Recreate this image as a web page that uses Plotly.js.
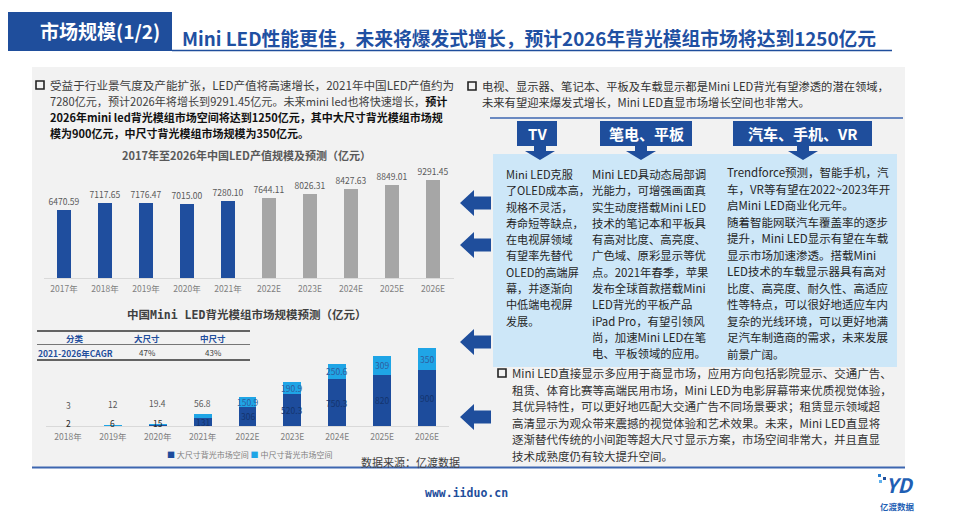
<!DOCTYPE html>
<html><head><meta charset="utf-8">
<script src="https://cdn.plot.ly/plotly-3.0.1.min.js"></script>
<style>html,body{margin:0;padding:0;background:#fff;}#chart{width:970px;height:518px;}</style>
</head><body><div id="chart"></div>
<script>
// ---------------- DATA ----------------
const ledYears = ['2017年','2018年','2019年','2020年','2021年','2022E','2023E','2024E','2025E','2026E'];
const ledValues = [6470.59, 7117.65, 7176.47, 7015.00, 7280.10, 7644.11, 8026.31, 8427.63, 8849.01, 9291.45];

const miniYears = ['2018年','2019年','2020年','2021年','2022E','2023E','2024E','2025E','2026E'];
const largeSize = [2, 6, 15, 131, 306, 520.3, 750.3, 820, 900];
const mediumSize = [3, 12, 19.4, 56.8, 150.9, 190.9, 250.6, 309, 350];
const seriesNames = ['大尺寸背光市场空间', '中尺寸背光市场空间'];

const cagrHeader = ['分类', '大尺寸', '中尺寸'];
const cagrRow = ['2021-2026年CAGR', '47%', '43%'];

// ---------------- HELPERS ----------------
const W = 970, H = 518;
const px = x => x / W;
const py = y => 1 - y / H;
const FONT = "'Noto Sans CJK SC', 'Noto Sans', sans-serif";
const MONO = "'DejaVu Sans Mono', 'Noto Sans CJK SC', monospace";
const BLUE = '#1f4e9c';
const DARKBAR = '#1d4c9c', LIGHTBAR = '#1fa5e6';

const shapes = [];
const annotations = [];
function rect(x0, y0, x1, y1, fill, layer, line) {
  shapes.push({type:'rect', xref:'paper', yref:'paper', x0:px(x0), x1:px(x1), y0:py(y1), y1:py(y0),
    fillcolor:fill, line: line || {width:0}, layer: layer || 'below'});
}
function hline(x0, x1, y, color, width, layer) {
  shapes.push({type:'line', xref:'paper', yref:'paper', x0:px(x0), x1:px(x1), y0:py(y), y1:py(y),
    line:{color:color, width:width}, layer: layer || 'below'});
}
function poly(pts, fill, layer) {
  const d = pts.map((p, i) => (i ? 'L' : 'M') + px(p[0]).toFixed(5) + ',' + py(p[1]).toFixed(5)).join(' ') + ' Z';
  shapes.push({type:'path', xref:'paper', yref:'paper', path:d, fillcolor:fill, line:{width:0}, layer: layer || 'above'});
}
function txt(x, y, text, size, color, opt) {
  opt = opt || {};
  annotations.push({xref:'paper', yref:'paper', x:px(x), y:py(y), text:text, showarrow:false,
    xanchor: opt.xanchor || 'left', yanchor:'middle',
    font:{family: opt.family || FONT, size:size, color:color, weight: opt.weight || 'normal'}});
}
function lines(x, y0, step, arr, size, color, opt) {
  arr.forEach((t, i) => txt(x, y0 + i * step, t, size, color, opt));
}
function checkbox(x, y) {
  rect(x, y - 4, x + 8, y + 4, 'rgba(0,0,0,0)', 'above', {color:'#222', width:1.6});
}
function leftArrow(tipX, cy) {
  poly([[tipX, cy], [tipX + 14, cy - 13], [tipX + 14, cy - 6.5], [tipX + 31, cy - 6.5],
        [tipX + 31, cy + 6.5], [tipX + 14, cy + 6.5], [tipX + 14, cy + 13]], BLUE, 'above');
}
function callout(x0, x1, ax, label) {
  poly([[x0, 121], [x1, 121], [x1, 146], [ax + 6, 146], [ax + 6, 151], [ax + 15, 151], [ax, 160],
        [ax - 15, 151], [ax - 6, 151], [ax - 6, 146], [x0, 146]], BLUE, 'above');
  txt((x0 + x1) / 2, 133.5, label, 15, '#ffffff', {xanchor:'center', weight:'bold'});
}

// ---------------- BACKGROUND / DECOR ----------------
rect(32, 67, 905, 468, '#f2f2f2');                // grey panel
rect(493, 154, 897, 367, '#cde7f8');              // light-blue box
hline(490, 903, 118, '#3d66b0', 1.6);
hline(32, 905, 467.5, '#3d66b0', 2);

// header
rect(8, 12, 172, 51, BLUE, 'above');
txt(100, 31, '市场规模(1/2)', 19, '#ffffff', {xanchor:'center', weight:'bold'});
txt(180, 38, 'Mini LED性能更佳，未来将爆发式增长，预计2026年背光模组市场将达到1250亿元', 18.8, '#1f50a2', {weight:'bold'});
hline(172, 892, 50.5, '#1f4e9c', 1.5, 'above');

// left paragraph
checkbox(36, 85);
txt(48, 85, '受益于行业景气度及产能扩张，LED产值将高速增长，2021年中国LED产值约为', 11.6, '#404040');
txt(48, 101, '7280亿元，预计2026年将增长到9291.45亿元。未来mini led也将快速增长，<b style="color:#111">预计</b>', 11.1, '#404040');
txt(48, 117, '<b>2026年mini led背光模组市场空间将达到1250亿元，其中大尺寸背光模组市场规</b>', 11, '#111');
txt(48, 133, '<b>模为900亿元，中尺寸背光模组市场规模为350亿元。</b>', 11, '#111');

// chart titles
txt(246, 155, '2017年至2026年中国LED产值规模及预测（亿元）', 11, '#595959', {xanchor:'center', weight:'bold'});
txt(246, 315, '中国Mini LED背光模组市场规模预测（亿元）', 11.5, '#404040', {xanchor:'center', weight:'bold', family:MONO});

// CAGR table
hline(37, 250, 331, '#333', 1.5, 'above');
hline(37, 250, 344.5, '#555', 0.8, 'above');
hline(37, 250, 360, '#333', 1.5, 'above');
const colX = [75, 147, 213];
cagrHeader.forEach((t, i) => txt(colX[i], 338, t, 8.5, BLUE, {xanchor:'center', weight:'bold'}));
cagrRow.forEach((t, i) => txt(colX[i], 352.5, t, i ? 8 : 8.5, i ? '#404040' : BLUE, {xanchor:'center', weight: i ? 'normal' : 'bold'}));

// legend (chart 2)
txt(250, 454, '<span style="color:' + DARKBAR + '">■</span> ' + seriesNames[0] +
    ' <span style="color:' + LIGHTBAR + '">■</span> ' + seriesNames[1], 8, '#7f7f7f', {xanchor:'center'});

// data source
txt(410, 462, '数据来源：亿渡数据', 11, '#404040', {xanchor:'center'});

// arrows
[203, 245, 342, 417].forEach(cy => leftArrow(460, cy));

// right top text
checkbox(468, 86);
lines(480, 86, 16, [
  '电视、显示器、笔记本、平板及车载显示都是Mini LED背光有望渗透的潜在领域，',
  '未来有望迎来爆发式增长，Mini LED直显市场增长空间也非常大。'
], 11.3, '#333');

// callouts
callout(517, 557, 540, 'TV');
callout(600, 692, 641, '笔电、平板');
callout(733, 872, 803, '汽车、手机、VR');

const col1 = ['Mini LED克服','了OLED成本高，','规格不灵活，','寿命短等缺点，','在电视屏领域','有望率先替代','OLED的高端屏','幕，并逐渐向','中低端电视屏','发展。'];
const col2 = ['Mini LED具动态局部调','光能力，可增强画面真','实生动度搭载Mini LED','技术的笔记本和平板具','有高对比度、高亮度、','广色域、原彩显示等优','点。2021年春季，苹果','发布全球首款搭载Mini','LED背光的平板产品','iPad Pro，有望引领风','尚，加速Mini LED在笔','电、平板领域的应用。'];
const col3 = ['Trendforce预测，智能手机，汽','车，VR等有望在2022~2023年开','启Mini LED商业化元年。','随着智能网联汽车覆盖率的逐步','提升，Mini LED显示有望在车载','显示市场加速渗透。搭载Mini','LED技术的车载显示器具有高对','比度、高亮度、耐久性、高适应','性等特点，可以很好地适应车内','复杂的光线环境，可以更好地满','足汽车制造商的需求，未来发展','前景广阔。'];
lines(504, 174, 16.3, col1, 11.1, '#262626');
lines(590, 174, 16.3, col2, 11.4, '#262626');
lines(725, 172, 16.5, col3, 11.5, '#262626');

// bottom right text
checkbox(498, 373);
lines(510, 373, 16.5, [
  'Mini LED直接显示多应用于商显市场，应用方向包括影院显示、交通广告、',
  '租赁、体育比赛等高端民用市场，Mini LED为电影屏幕带来优质视觉体验，',
  '其优异特性，可以更好地匹配大交通广告不同场景要求；租赁显示领域超',
  '高清显示为观众带来震撼的视觉体验和艺术效果。未来，Mini LED直显将',
  '逐渐替代传统的小间距等超大尺寸显示方案，市场空间非常大，并且直显',
  '技术成熟度仍有较大提升空间。'
], 11.5, '#333');

// footer
txt(466, 493, 'www.iiduo.cn', 11.5, BLUE, {xanchor:'center', family:MONO, weight:'bold'});
txt(900, 484, '<i>YD</i>', 20, '#1f5fb4', {xanchor:'center', weight:'bold'});
txt(897, 506, '亿渡数据', 8.5, '#1f5fb4', {xanchor:'center', weight:'bold'});
rect(878, 474, 881, 477, '#2a7fd0', 'above');
rect(883, 477, 886, 480, '#1f4e9c', 'above');
rect(879, 480, 882, 483, '#5fb0ec', 'above');

// ---------------- CHART LABELS (mini LED) ----------------
largeSize.forEach((v, i) => {
  const big = v >= 100;
  annotations.push({xref:'x2', yref:'y2', x:miniYears[i], y: big ? v / 2 : 0, yshift: big ? 0 : 3,
    text:String(v), showarrow:false, yanchor:'middle',
    font:{family:FONT, size:8.5, color: big ? '#14346e' : '#262626'}});
});
mediumSize.forEach((v, i) => {
  const big = v >= 100;
  const total = largeSize[i] + v;
  annotations.push({xref:'x2', yref:'y2', x:miniYears[i], y: big ? largeSize[i] + v / 2 : total,
    yanchor: big ? 'middle' : 'bottom', yshift: big ? 0 : (total < 100 ? 13 : 3),
    text:String(v), showarrow:false,
    font:{family:FONT, size:8.5, color: big ? '#2f5d9e' : '#595959'}});
});

// ---------------- TRACES ----------------
const traces = [
  {type:'bar', x:ledYears, y:ledValues, xaxis:'x', yaxis:'y', width:0.32, showlegend:false,
   marker:{color: ledYears.map(c => c.endsWith('E') ? '#a6a6a6' : '#1f4e9e')},
   text: ledValues.map(v => v.toFixed(2)), textposition:'outside', cliponaxis:false, constraintext:'none',
   textfont:{family:FONT, size:8.5, color:'#595959'}, hoverinfo:'skip'},
  {type:'bar', name:seriesNames[0], x:miniYears, y:largeSize, xaxis:'x2', yaxis:'y2', width:0.4,
   marker:{color:DARKBAR}, textposition:'none', hoverinfo:'skip', showlegend:false},
  {type:'bar', name:seriesNames[1], x:miniYears, y:mediumSize, xaxis:'x2', yaxis:'y2', width:0.4,
   marker:{color:LIGHTBAR}, textposition:'none', hoverinfo:'skip', showlegend:false}
];

const axisTick = {family:FONT, size:8.5, color:'#7f7f7f'};
const layout = {
  width:W, height:H, margin:{l:0, r:0, t:0, b:0},
  paper_bgcolor:'#ffffff', plot_bgcolor:'rgba(0,0,0,0)',
  font:{family:FONT},
  barmode:'stack',
  showlegend:false,
  xaxis:{domain:[px(43.5), px(453.5)], anchor:'y', type:'category', showline:true, linecolor:'#d9d9d9', linewidth:1,
         ticks:'', ticklabelstandoff:3, tickfont:axisTick, showgrid:false, zeroline:false, fixedrange:true},
  yaxis:{domain:[py(278), py(168)], anchor:'x', range:[0, 10466], visible:false, fixedrange:true},
  xaxis2:{domain:[px(45.6), px(449.4)], anchor:'y2', type:'category', showline:true, linecolor:'#d9d9d9', linewidth:1,
          ticks:'', ticklabelstandoff:3, tickfont:axisTick, showgrid:false, zeroline:false, fixedrange:true},
  yaxis2:{domain:[py(426), py(336)], anchor:'x2', range:[0, 1442], visible:false, fixedrange:true},
  shapes:shapes,
  annotations:annotations
};

Plotly.newPlot('chart', traces, layout, {staticPlot:true, displayModeBar:false});
</script>
</body></html>
